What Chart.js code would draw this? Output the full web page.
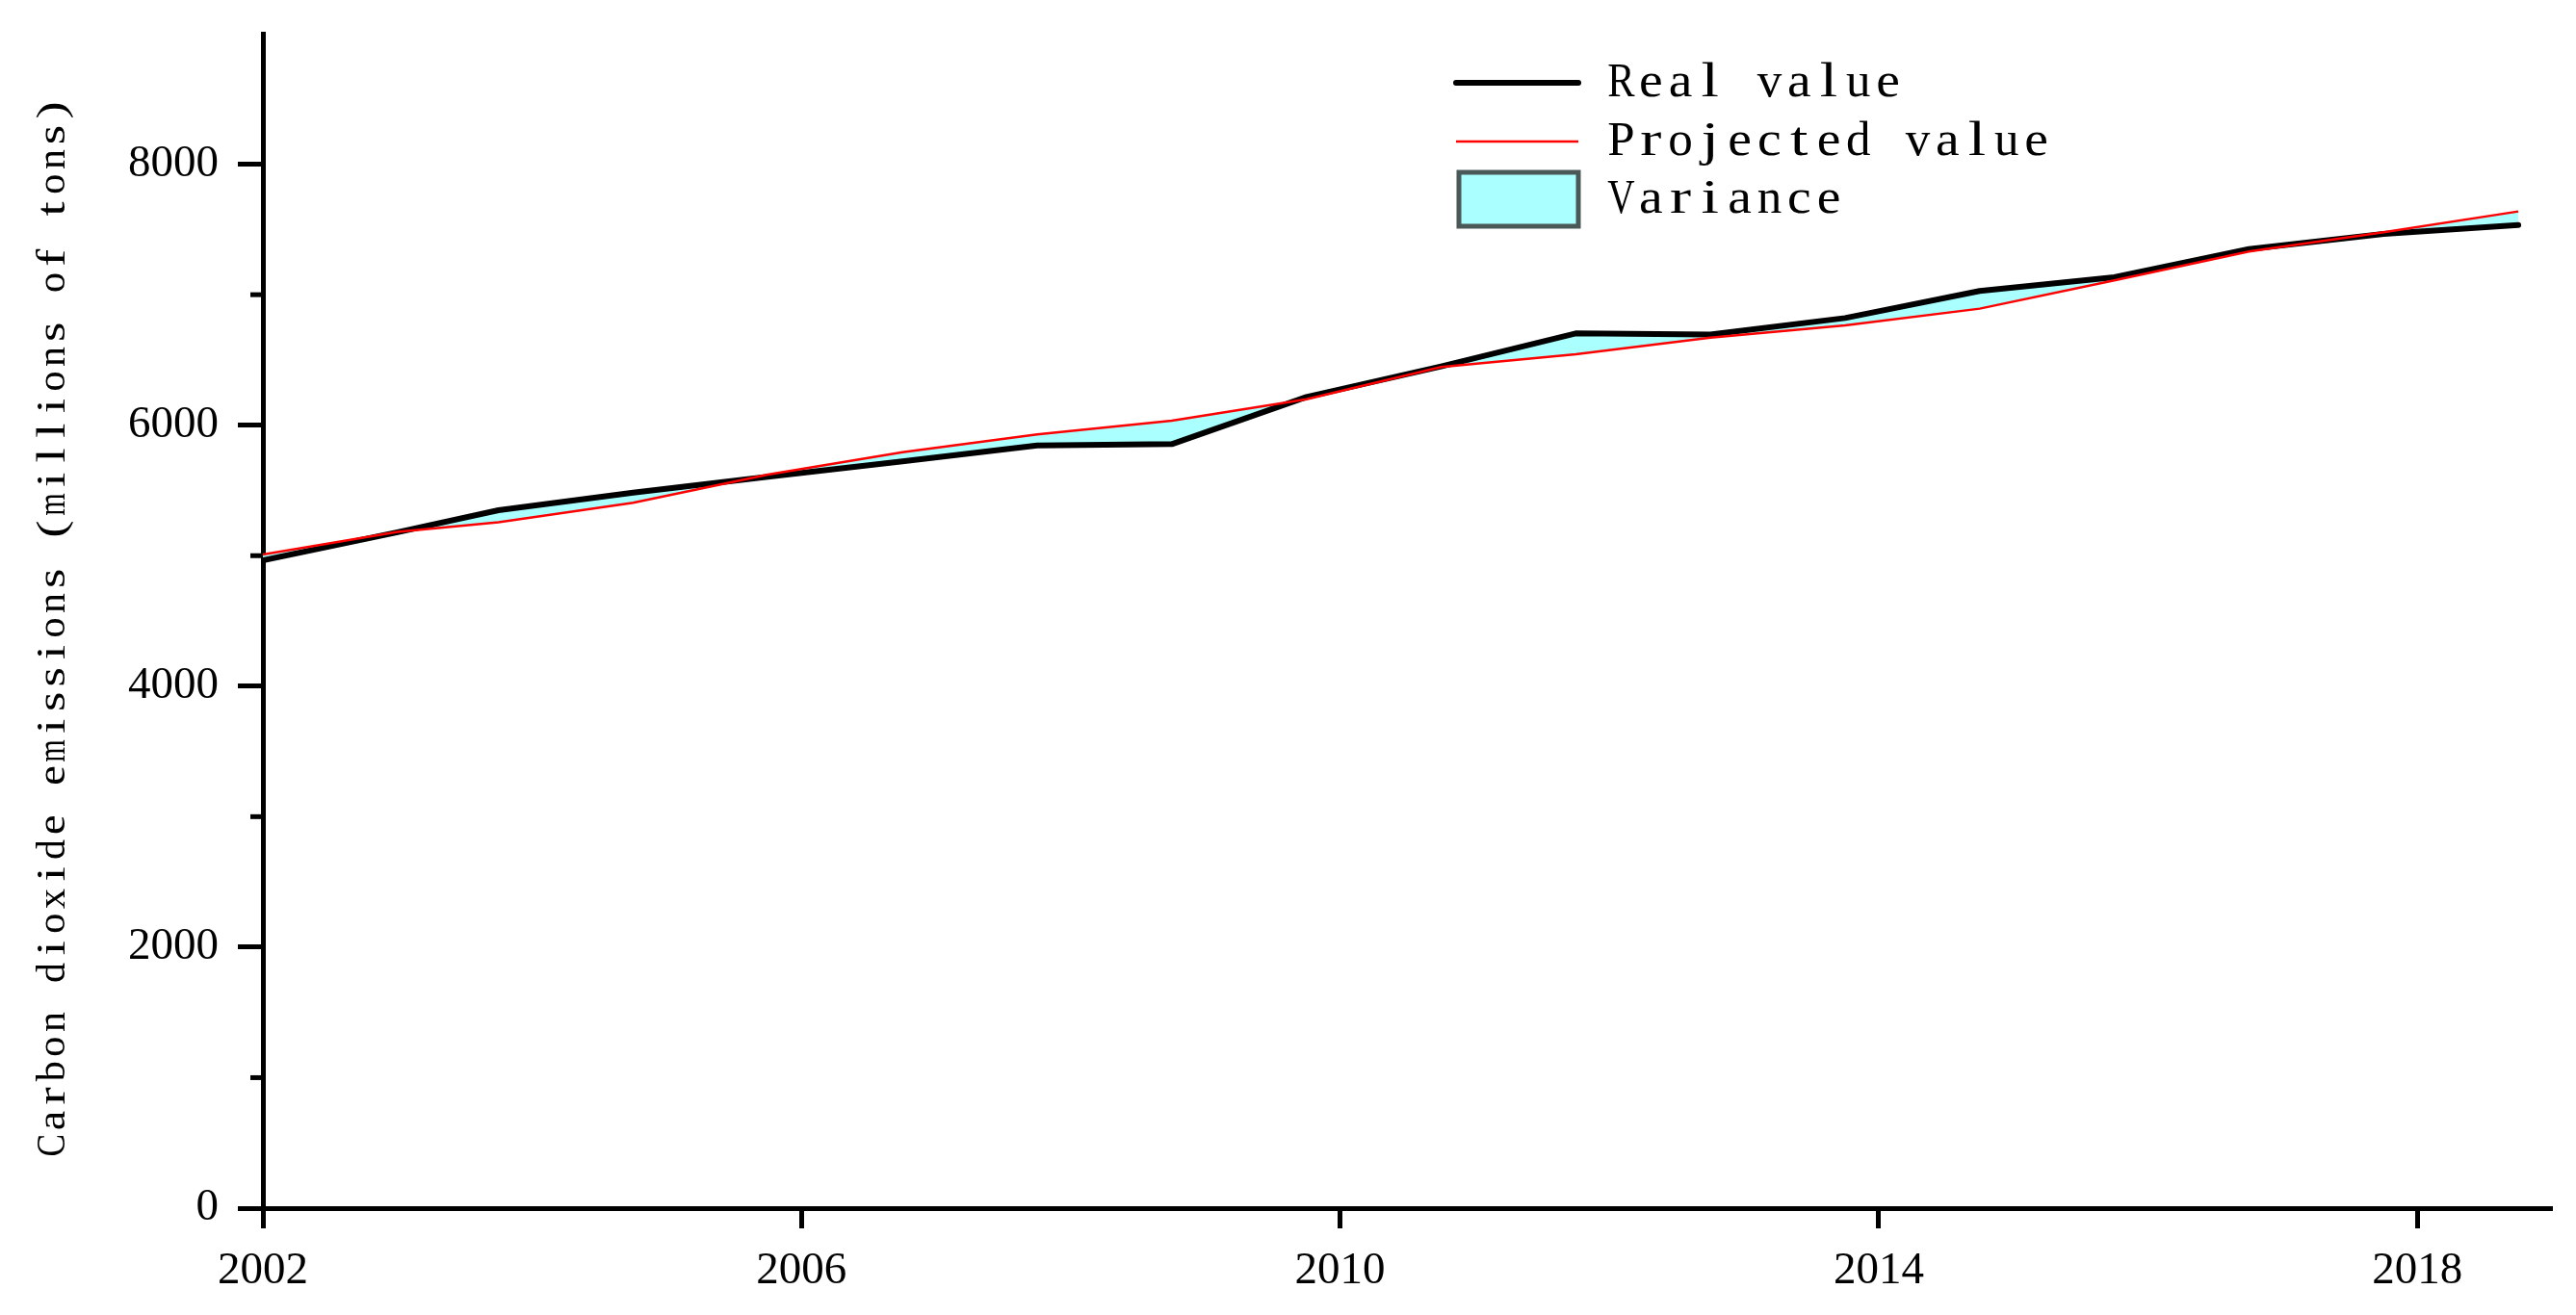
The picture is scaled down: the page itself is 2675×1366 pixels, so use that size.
<!DOCTYPE html>
<html>
<head>
<meta charset="utf-8">
<script src="https://cdn.jsdelivr.net/npm/chart.js@4.4.1/dist/chart.umd.min.js"></script>
<style>
html,body{margin:0;padding:0;background:#ffffff;}
#wrap{width:2675px;height:1366px;}
</style>
</head>
<body>
<div id="wrap"><canvas id="c" width="2675" height="1366"></canvas></div>
<script>
// ---- data ----
const years = [2002, 2003, 2003.75, 2004.75, 2005.75, 2006.75, 2007.75, 2008.75, 2009.75,
               2010.75, 2011.75, 2012.75, 2013.75, 2014.75, 2015.75, 2016.75, 2017.75, 2018.75];
const realValues = [4965, 5180, 5348, 5483, 5605, 5722, 5845, 5855, 6216,
                    6450, 6703, 6695, 6821, 7028, 7134, 7350, 7466, 7533];
const projectedValues = [5008, 5183, 5257, 5405, 5621, 5793, 5929, 6035, 6199,
                         6445, 6543, 6670, 6765, 6893, 7109, 7331, 7478, 7638];
const xTickValues = [2002, 2006, 2010, 2014, 2018];
const yTickValues = [0, 2000, 4000, 6000, 8000];
const yMinorTickValues = [1000, 3000, 5000, 7000];
const seriesLabels = ['Real value', 'Projected value', 'Variance'];
const yAxisTitle = 'Carbon dioxide emissions (millions of tons)';

const SERIF = '"Liberation Serif", "DejaVu Serif", serif';
const CYAN = '#aaffff';

// draw text with fixed-width character cells (mimics a monospaced serif face)
function drawMono(ctx, text, x, y, cell, size) {
  ctx.font = size + 'px ' + SERIF;
  ctx.textAlign = 'center';
  ctx.textBaseline = 'middle';
  for (let i = 0; i < text.length; i++) {
    const ch = text[i];
    if (ch === ' ') continue;
    const w = ctx.measureText(ch).width;
    let s = 1;
    if (w > cell * 0.92) s = cell * 0.92 / w;
    else if (w < cell * 0.8) s = Math.min(cell * 0.8 / w, 1.3);
    ctx.save();
    ctx.translate(x + cell * (i + 0.5), y);
    ctx.scale(s, 1);
    ctx.fillText(ch, 0, 0);
    ctx.restore();
  }
}

const minorTicks = {
  id: 'minorTicks',
  afterDraw(chart) {
    const y = chart.scales.y;
    const ctx = chart.ctx;
    const left = chart.chartArea.left;
    ctx.save();
    ctx.strokeStyle = '#000';
    ctx.lineWidth = 5;
    yMinorTickValues.forEach(v => {
      const py = y.getPixelForValue(v);
      ctx.beginPath();
      ctx.moveTo(left - 13, py);
      ctx.lineTo(left, py);
      ctx.stroke();
    });
    ctx.restore();
  }
};

const axisTitle = {
  id: 'axisTitle',
  afterDraw(chart) {
    const ctx = chart.ctx;
    const ca = chart.chartArea;
    const cell = 25.6;
    const total = cell * yAxisTitle.length;
    ctx.save();
    ctx.fillStyle = '#000';
    ctx.translate(56, (ca.top + ca.bottom) / 2 + 7);
    ctx.rotate(-Math.PI / 2);
    drawMono(ctx, yAxisTitle, -total / 2, 0, cell, 42);
    ctx.restore();
  }
};

const customLegend = {
  id: 'customLegend',
  afterDraw(chart) {
    const ctx = chart.ctx;
    const ds = chart.data.datasets;
    const x0 = 1512, x1 = 1639, tx = 1668;
    const rows = [86, 147, 207];
    ctx.save();
    ctx.lineCap = 'round';
    ctx.strokeStyle = ds[0].borderColor; ctx.lineWidth = 6;
    ctx.beginPath(); ctx.moveTo(x0, rows[0]); ctx.lineTo(x1, rows[0]); ctx.stroke();
    ctx.lineCap = 'butt';
    ctx.strokeStyle = ds[1].borderColor; ctx.lineWidth = 2.5;
    ctx.beginPath(); ctx.moveTo(x0, rows[1]); ctx.lineTo(x1, rows[1]); ctx.stroke();
    ctx.fillStyle = CYAN;
    ctx.strokeStyle = '#4a5858'; ctx.lineWidth = 5;
    ctx.beginPath(); ctx.rect(x0 + 3, rows[2] - 28, x1 - x0 - 3, 56); ctx.fill(); ctx.stroke();
    ctx.fillStyle = '#000';
    seriesLabels.forEach((t, i) => drawMono(ctx, t, tx, rows[i] + 1, 30.8, 51));
    ctx.restore();
  }
};

new Chart(document.getElementById('c'), {
  type: 'line',
  data: {
    datasets: [
      {
        label: seriesLabels[0],
        data: years.map((x, i) => ({x: x, y: realValues[i]})),
        borderColor: '#000000',
        borderWidth: 6,
        pointRadius: 0,
        tension: 0,
        borderCapStyle: 'round',
        borderJoinStyle: 'round',
        fill: {target: 1, above: CYAN, below: CYAN},
        order: 2
      },
      {
        label: seriesLabels[1],
        data: years.map((x, i) => ({x: x, y: projectedValues[i]})),
        borderColor: '#ff0000',
        borderWidth: 2.5,
        pointRadius: 0,
        tension: 0,
        fill: false,
        order: 1
      }
    ]
  },
  options: {
    responsive: false,
    animation: false,
    devicePixelRatio: 1,
    layout: {padding: {top: 35, right: 25, left: 0, bottom: 0}},
    plugins: {
      legend: {display: false},
      tooltip: {enabled: false},
      filler: {drawTime: 'beforeDatasetsDraw'}
    },
    scales: {
      x: {
        type: 'linear',
        min: 2002,
        max: 2019,
        afterBuildTicks: s => { s.ticks = xTickValues.map(v => ({value: v})); },
        afterFit: s => { s.height = 111; },
        ticks: {
          font: {family: SERIF, size: 47},
          color: '#000',
          padding: 16,
          maxRotation: 0,
          autoSkip: false,
          callback: v => String(v)
        },
        grid: {display: true, drawOnChartArea: false, drawTicks: true, tickLength: 21, tickWidth: 5, tickColor: '#000'},
        border: {display: true, color: '#000', width: 5}
      },
      y: {
        type: 'linear',
        min: 0,
        max: 9000,
        afterBuildTicks: s => { s.ticks = yTickValues.map(v => ({value: v})); },
        afterFit: s => { s.width = 273; s.paddingTop = 0; s.paddingBottom = 0; },
        ticks: {
          font: {family: SERIF, size: 47},
          color: '#000',
          padding: 20,
          autoSkip: false,
          callback: v => String(v)
        },
        grid: {display: true, drawOnChartArea: false, drawTicks: true, tickLength: 26, tickWidth: 5, tickColor: '#000'},
        border: {display: true, color: '#000', width: 5},
        title: {display: false}
      }
    }
  },
  plugins: [minorTicks, axisTitle, customLegend]
});
</script>
</body>
</html>
